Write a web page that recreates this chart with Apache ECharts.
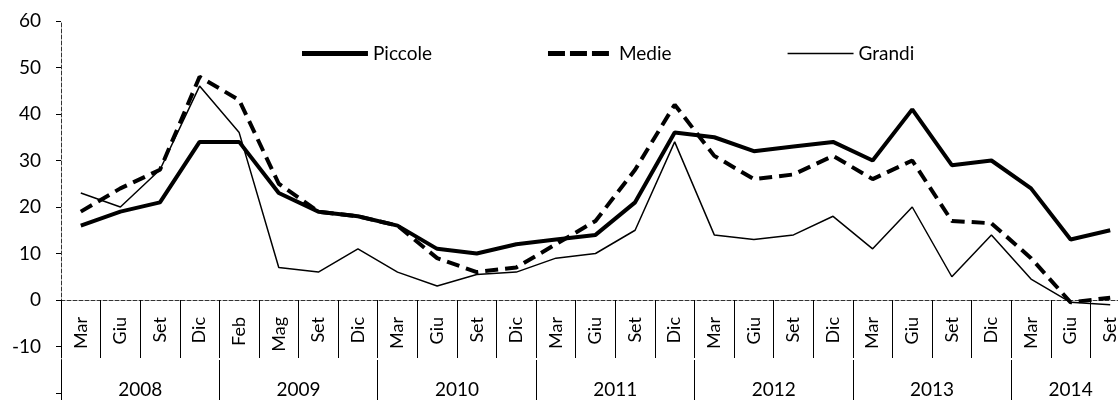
<!DOCTYPE html>
<html>
<head>
  <meta charset="utf-8">
  <title>Piccole Medie Grandi</title>
  <script src="https://cdn.jsdelivr.net/npm/echarts@6/dist/echarts.min.js"></script>
  <style>
    html, body { margin: 0; padding: 0; background: #fff; }
    #chart { width: 1118px; height: 400px; }
  </style>
</head>
<body>
<div id="chart"></div>
<script>
  // dati
  var months = ['Mar', 'Giu', 'Set', 'Dic', 'Feb', 'Mag', 'Set', 'Dic',
    'Mar', 'Giu', 'Set', 'Dic', 'Mar', 'Giu', 'Set', 'Dic',
    'Mar', 'Giu', 'Set', 'Dic', 'Mar', 'Giu', 'Set', 'Dic',
    'Mar', 'Giu', 'Set'];
  var years = ['2008', '2009', '2010', '2011', '2012', '2013', '2014'];
  var monthsPerYear = [4, 4, 4, 4, 4, 4, 3];
  var yTicks = [-10, 0, 10, 20, 30, 40, 50, 60];

  var piccole = [16, 19, 21, 34, 34, 23, 19, 18, 16, 11, 10, 12, 13, 14, 21, 36,
    35, 32, 33, 34, 30, 41, 29, 30, 24, 13, 15];
  var medie = [19, 24, 28, 48, 43, 25, 19, 18, 16, 9, 6, 7, 12, 17, 28, 42,
    31, 26, 27, 31, 26, 30, 17, 16.5, 9, -0.5, 0.5];
  var grandi = [23, 20, 28, 46, 36, 7, 6, 11, 6, 3, 5.5, 6, 9, 10, 15, 34,
    14, 13, 14, 18, 11, 20, 5, 14, 4.5, -0.5, -1];

  // asse anni: mezze bande, etichetta al centro di ogni anno
  var yearSlots = [];
  var yearBounds = [0];
  var pos = 0;
  for (var i = 0; i < monthsPerYear.length; i++) {
    pos += monthsPerYear[i] * 2;
    yearBounds.push(pos);
  }
  for (var k = 0; k <= pos; k++) yearSlots.push('');
  for (var j = 0; j < years.length; j++) {
    yearSlots[yearBounds[j] + monthsPerYear[j]] = years[j];
  }

  var font = 'Lato, "Open Sans", sans-serif';
  var myChart = echarts.init(document.getElementById('chart'));

  // icone legenda (punti minuscoli agli angoli per fissare il riquadro)
  var box = 'M0,0h0.01v0.01h-0.01z M66,14h0.01v0.01h-0.01z ';
  var iconPiccole = 'path://' + box + 'M0,4.5h66v5h-66z';
  var iconMedie = 'path://' + box + 'M0,4.5h17v5h-17z M22,4.5h17v5h-17z M44,4.5h17v5h-17z';
  var iconGrandi = 'path://' + box + 'M0,6.2h66v1.6h-66z';

  var option = {
    animation: false,
    backgroundColor: '#fff',
    textStyle: { fontFamily: font, color: '#000' },
    legend: {
      top: 39,
      left: 297,
      itemWidth: 66,
      itemHeight: 14,
      itemGap: 116,
      textStyle: { fontFamily: font, fontSize: 19, color: '#000' },
      itemStyle: { color: '#000', borderWidth: 0 },
      lineStyle: { width: 0 },
      data: [
        { name: 'Piccole', icon: iconPiccole },
        { name: 'Medie', icon: iconMedie },
        { name: 'Grandi', icon: iconGrandi }
      ]
    },
    grid: {
      left: 61,
      right: -12,
      top: 21,
      bottom: 7,
      containLabel: false,
      outerBoundsMode: 'none'
    },
    xAxis: [
      {
        type: 'category',
        position: 'bottom',
        offset: -93,
        data: months,
        boundaryGap: true,
        axisLine: { onZero: false, lineStyle: { color: '#333', width: 1, type: [4, 2] } },
        axisTick: { show: true, length: 58, lineStyle: { color: '#000', width: 1 } },
        axisLabel: {
          show: true,
          rotate: 90,
          interval: 0,
          hideOverlap: false,
          margin: 17,
          fontFamily: font,
          fontSize: 18,
          color: '#000'
        },
        splitLine: { show: false }
      },
      {
        type: 'category',
        position: 'bottom',
        offset: -33,
        data: yearSlots,
        boundaryGap: false,
        axisLine: { show: false, onZero: false },
        axisTick: {
          show: true,
          length: 42,
          interval: function (idx) { return yearBounds.indexOf(idx) >= 0; },
          lineStyle: { color: '#000', width: 1 }
        },
        axisLabel: {
          interval: function (idx, val) { return val !== ''; },
          margin: 20,
          fontFamily: font,
          fontSize: 19,
          color: '#000'
        },
        splitLine: { show: false }
      }
    ],
    yAxis: {
      type: 'value',
      min: -20,
      max: 60,
      interval: 10,
      axisLine: { show: true, lineStyle: { color: '#333', width: 1, type: [4, 2] } },
      axisTick: { show: true, length: 5, lineStyle: { color: '#000' } },
      axisLabel: {
        margin: 20,
        fontFamily: font,
        fontSize: 19,
        color: '#000',
        formatter: function (v) { return yTicks.indexOf(v) >= 0 ? String(v) : ''; }
      },
      splitLine: { show: false }
    },
    series: [
      {
        name: 'Piccole',
        type: 'line',
        data: piccole,
        symbol: 'none',
        lineStyle: { color: '#000', width: 4 },
        itemStyle: { color: '#000' }
      },
      {
        name: 'Medie',
        type: 'line',
        data: medie,
        symbol: 'none',
        lineStyle: { color: '#000', width: 4, type: [13, 7] },
        itemStyle: { color: '#000' }
      },
      {
        name: 'Grandi',
        type: 'line',
        data: grandi,
        symbol: 'none',
        lineStyle: { color: '#000', width: 1.5 },
        itemStyle: { color: '#000' }
      }
    ]
  };

  myChart.setOption(option);

  window.onresize = function () {
    myChart.resize();
  };
</script>
</body>
</html>
